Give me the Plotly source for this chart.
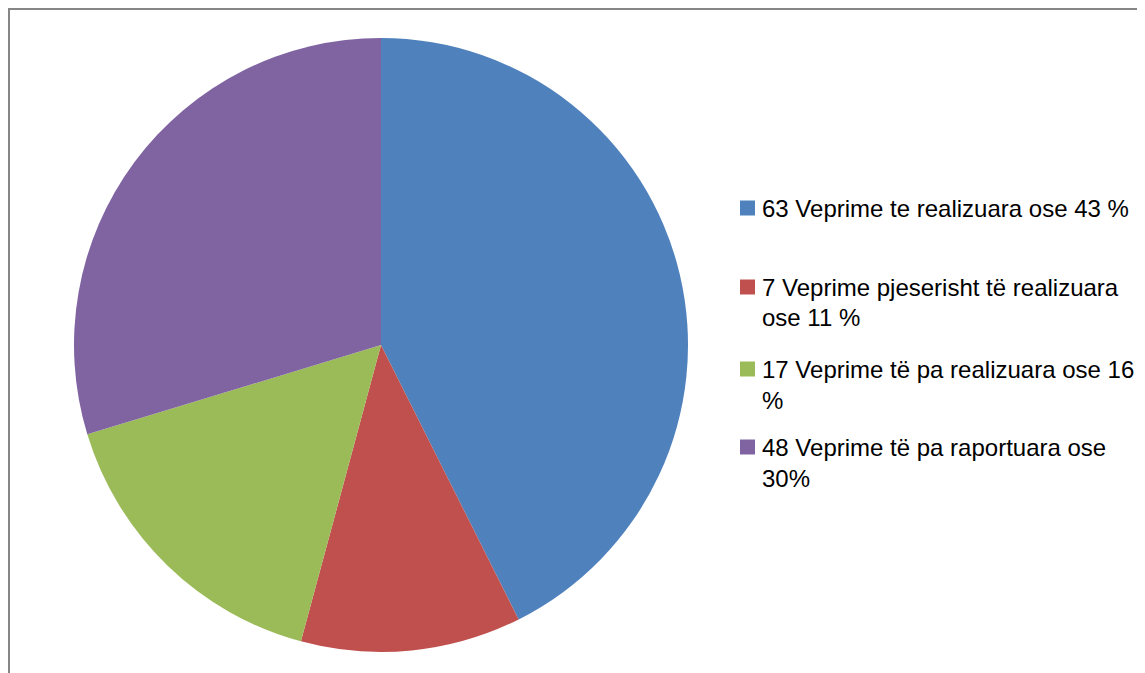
import plotly.graph_objects as go

W, H = 1145, 673
OFF = 8  # page body margin offset

labels = [
    "63 Veprime te realizuara ose 43 %",
    "7 Veprime pjeserisht të realizuara<br>ose 11 %",
    "17 Veprime të pa realizuara ose 16<br>%",
    "48 Veprime të pa raportuara ose<br>30%",
]
values = [42.6, 11.6, 16.1, 29.7]
colors = ["#4F81BD", "#C0504D", "#9BBB59", "#8064A2"]

# legend layout (pixels in the reference)
legend_centers = [208, 287, 369, 447]
line_gap = 31
sq_x0, sq_size = 740, 15
text_x = 762
font_family = "Liberation Sans, Arial, sans-serif"
font_size = 24

cx, cy, r = 381, 345, 307


def px(x):
    return (x - OFF) / W


def py(y):
    return 1 - (y - OFF) / H


fig = go.Figure(go.Pie(
    labels=[l.replace("<br>", " ") for l in labels],
    values=values,
    marker=dict(colors=colors, line=dict(width=0)),
    sort=False,
    direction="clockwise",
    rotation=0,
    textinfo="none",
    hoverinfo="label+percent",
    showlegend=False,
    domain=dict(x=[px(cx - r), px(cx + r)], y=[py(cy + r), py(cy - r)]),
))

shapes = []
annotations = []
# outer border (top and left visible)
shapes.append(dict(type="rect", xref="paper", yref="paper",
                   x0=px(9), x1=1.05, y0=-0.05, y1=py(9),
                   line=dict(color="#868686", width=2), fillcolor="rgba(0,0,0,0)"))

for lab, col, yc in zip(labels, colors, legend_centers):
    shapes.append(dict(type="rect", xref="paper", yref="paper",
                       x0=px(sq_x0), x1=px(sq_x0 + sq_size),
                       y0=py(yc + sq_size / 2), y1=py(yc - sq_size / 2),
                       line=dict(width=0), fillcolor=col))
    for i, line in enumerate(lab.split("<br>")):
        annotations.append(dict(xref="paper", yref="paper", x=px(text_x - 2),
                                y=py(yc + i * line_gap),
                                xanchor="left", yanchor="middle", showarrow=False,
                                text=line, align="left",
                                font=dict(family=font_family, size=font_size, color="#000000")))

fig.update_layout(
    width=W, height=H,
    margin=dict(l=0, r=0, t=0, b=0),
    paper_bgcolor="white", plot_bgcolor="white",
    shapes=shapes, annotations=annotations,
)

fig.write_html("out.html", config={"displayModeBar": False})
